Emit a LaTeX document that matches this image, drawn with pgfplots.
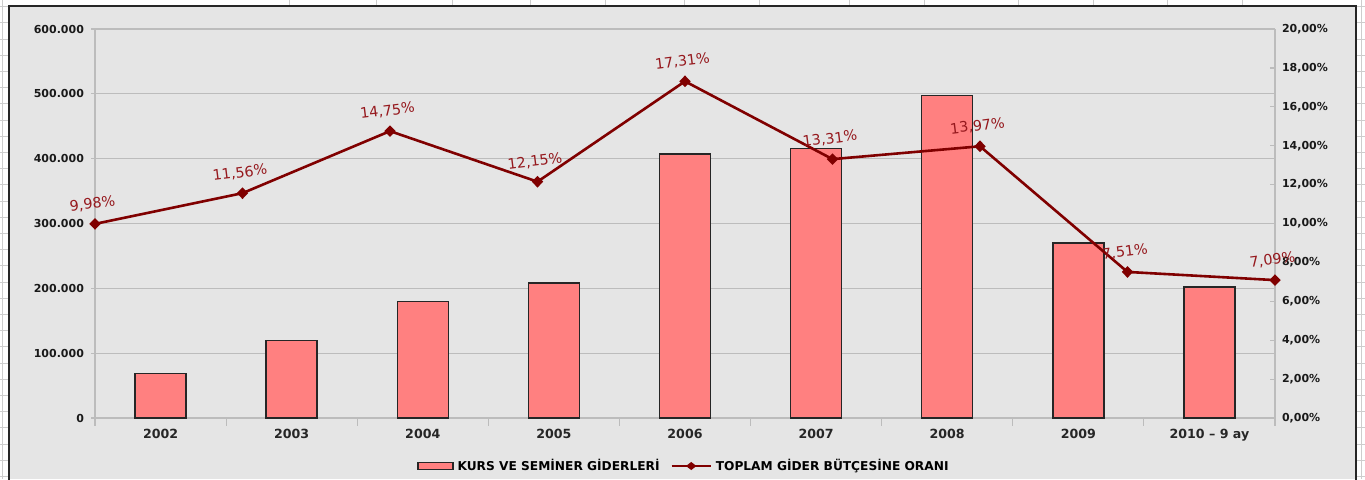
\documentclass[border=0pt]{standalone}
\usepackage{fontspec}
\setmainfont{DejaVu Sans}
\usepackage{pgfplots}
\pgfplotsset{compat=1.18}
\definecolor{chartbg}{RGB}{229,229,229}
\definecolor{gridc}{RGB}{188,188,188}
\definecolor{barfill}{RGB}{255,128,128}
\definecolor{linec}{RGB}{128,0,0}
\definecolor{labc}{RGB}{150,25,30}
\definecolor{sheet}{RGB}{205,205,205}
\begin{document}
\begin{tikzpicture}[x=0.5pt,y=0.5pt]
\path[use as bounding box] (0,0) rectangle (1365,479);
\fill[white] (0,0) rectangle (1365,479);
\foreach \xx in {289,376,452,530,605,684,759,849.5,924,1018,1093,1167,1242}{\draw[sheet,line width=0.5pt] (\xx,479) -- (\xx,472);}
\foreach \k in {0,...,29}{\draw[sheet,line width=0.5pt] (0,{472.3-16.2*\k}) -- (9,{472.3-16.2*\k});
  \draw[sheet,line width=0.5pt] (1356,{472.3-16.2*\k}) -- (1365,{472.3-16.2*\k});}
\draw[sheet,line width=0.5pt] (2,0) -- (2,479);
\draw[sheet,line width=0.5pt] (1361.5,0) -- (1361.5,479);
\fill[chartbg] (9,0) rectangle (1356,473);
\draw[black!85,line width=0.8pt] (9,-2) -- (9,473) -- (1356,473) -- (1356,-2);

\begin{axis}[
  at={(47.5pt,30.5pt)}, anchor=south west,
  scale only axis, width=590pt, height=194.5pt,
  xmin=-0.5, xmax=8.5, ymin=0, ymax=600000,
  scaled y ticks=false,
  axis lines*=left,
  axis line style={gridc,line width=0.6pt},
  ytick={0,100000,200000,300000,400000,500000,600000},
  yticklabels={0,100.000,200.000,300.000,400.000,500.000,600.000},
  ymajorgrids, grid style={gridc,line width=0.6pt},
  xtick={0,...,8},
  xticklabels={2002,2003,2004,2005,2006,2007,2008,2009,{2010 -- 9 ay}},
  major x tick style={draw=none},
  minor xtick={-0.5,0.5,...,8.5},
  xtick align=center, ytick align=outside,
  major tick length=2pt, minor tick length=3.8pt,
  tick style={gridc,line width=0.6pt},
  yticklabel style={font=\bfseries\fontsize{5.5pt}{6pt}\selectfont, text=black!90},
  xticklabel style={font=\bfseries\fontsize{6.3pt}{7pt}\selectfont, text=black!85},
  ybar, bar width=25.5pt,
]
\addplot[ybar, fill=barfill, draw=black!85, line width=0.7pt] coordinates {(0,69000)(1,120000)(2,180000)(3,208000)(4,407000)(5,416000)(6,497000)(7,270000)(8,202000)};
\end{axis}

\begin{axis}[
  at={(47.5pt,30.5pt)}, anchor=south west,
  scale only axis, width=590pt, height=194.5pt,
  xmin=0, xmax=8, ymin=0, ymax=20,
  axis x line=none, axis y line*=right,
  axis line style={gridc,line width=0.6pt},
  ytick={0,2,...,20},
  yticklabels={{0,00\%},{2,00\%},{4,00\%},{6,00\%},{8,00\%},{10,00\%},{12,00\%},{14,00\%},{16,00\%},{18,00\%},{20,00\%}},
  ytick align=inside, major tick length=2.5pt,
  tick style={gridc,line width=0.6pt},
  yticklabel style={font=\bfseries\fontsize{5.5pt}{6pt}\selectfont, text=black!90},
  clip=false,
  legend style={at={(0.5,0)}, anchor=center, yshift=-24pt, draw=none, fill=none,
    legend columns=2, font=\bfseries\fontsize{6.1pt}{6.5pt}\selectfont,
    /tikz/every even column/.append style={column sep=3.5pt}},
  legend cell align=left,
]
\addlegendimage{legend image code/.code={\draw[fill=barfill,draw=black!85,line width=0.6pt] (0pt,-1.75pt) rectangle (17.5pt,1.75pt);}}
\addlegendentry{KURS VE SEMİNER GİDERLERİ}
\addplot[linec, line width=1.3pt, mark=diamond*, mark size=2pt, mark options={xscale=1.3,solid},
  nodes near coords={\pgfmathprintnumber[fixed,fixed zerofill,precision=2,use comma,assume math mode=true]{\pgfplotspointmeta}\%},
  every node near coord/.append style={font=\fontsize{7.2pt}{7.6pt}\selectfont, text=labc, rotate=7, anchor=south, yshift=3pt},
  legend image code/.code={\draw[linec,line width=1.1pt] (0pt,0pt) -- (19.5pt,0pt); \fill[linec] (9.75pt,1.2pt) -- (11.3pt,0pt) -- (9.75pt,-1.2pt) -- (8.2pt,0pt) -- cycle;}]
  coordinates {(0,9.98)(1,11.56)(2,14.75)(3,12.15)(4,17.31)(5,13.31)(6,13.97)(7,7.51)(8,7.09)};
\addlegendentry{TOPLAM GİDER BÜTÇESİNE ORANI}
\end{axis}
\end{tikzpicture}
\end{document}
